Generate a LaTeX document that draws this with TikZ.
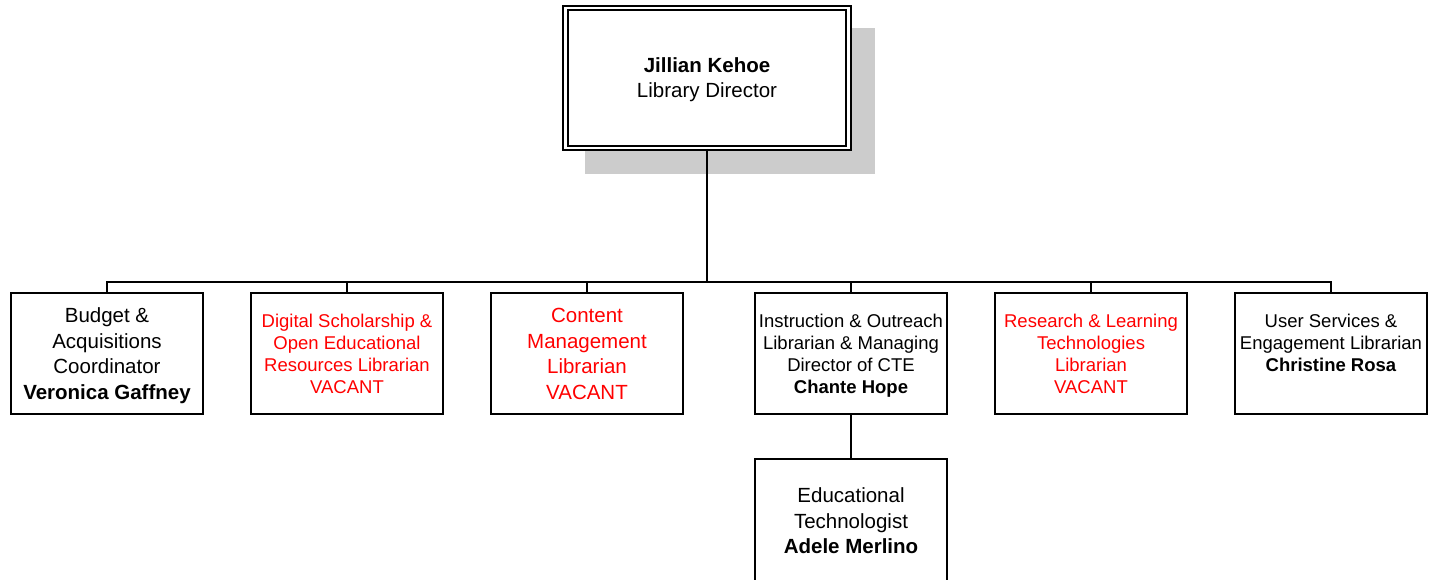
\documentclass[tikz,border=0pt]{standalone}
\usepackage{fontspec}
\setmainfont{Liberation Sans}
\definecolor{shadowgray}{RGB}{204,204,204}
\definecolor{vacred}{RGB}{255,0,0}
\begin{document}
\begin{tikzpicture}[x=1pt,y=-1pt,
  box/.style={draw, line width=2pt, minimum width=192pt, minimum height=121pt, inner sep=0pt, fill=white},
  big/.style={anchor=north, inner sep=0pt, align=center, font=\fontsize{20.5}{25.5}\selectfont},
  small/.style={anchor=north, inner sep=0pt, align=center, font=\fontsize{18.5}{22}\selectfont},
  vac/.style={text=vacred},
  link/.style={line width=2pt}]
\useasboundingbox (0,0) rectangle (1432,580);
% shadow of top box
\fill[shadowgray] (585,28) rectangle (875,174);
% top box
\node[box, double, double distance=2.5pt, line width=1.8pt, minimum width=283pt, minimum height=140pt] (top) at (707,78) {};
\node[big, font=\fontsize{20.5}{25}\selectfont] (toptxt) at (707,55.2) {\strut\textbf{Jillian Kehoe}\\Library Director};
% row boxes
\node[box] (b1) at (107,353.5) {};
\node[box] (b2) at (347,353.5) {};
\node[box] (b3) at (587,353.5) {};
\node[box] (b4) at (851,353.5) {};
\node[box] (b5) at (1091,353.5) {};
\node[box] (b6) at (1331,353.5) {};
\node[box, minimum height=130pt] (b7) at (851,524) {};
% texts
\node[big] (t1) at (107,304.85) {\strut Budget \&\\Acquisitions\\Coordinator\\\textbf{Veronica Gaffney}};
\node[small, vac] (t2) at (347,311.9) {\strut Digital Scholarship \&\\Open Educational\\Resources Librarian\\VACANT};
\node[big, vac] (t3) at (587,304.85) {\strut Content\\Management\\Librarian\\VACANT};
\node[small] (t4) at (851,311.9) {\strut Instruction \& Outreach\\Librarian \& Managing\\Director of CTE\\\textbf{Chante Hope}};
\node[small, vac] (t5) at (1091,311.9) {\strut Research \& Learning\\Technologies\\Librarian\\VACANT};
\node[small] (t6) at (1331,311.9) {\strut User Services \&\\Engagement Librarian\\\textbf{Christine Rosa}};
\node[big] (t7) at (851,484.85) {\strut Educational\\Technologist\\\textbf{Adele Merlino}};
% connectors
\coordinate (bus) at (0,282);
\draw[link] (top.south) -- (top.south |- bus);
\foreach \b in {b1,b2,b3,b4,b5,b6}{
  \draw[link] (top.south |- bus) -| (\b.north);
}
\draw[link] (b4.south) -- (b7.north);
\end{tikzpicture}
\end{document}
